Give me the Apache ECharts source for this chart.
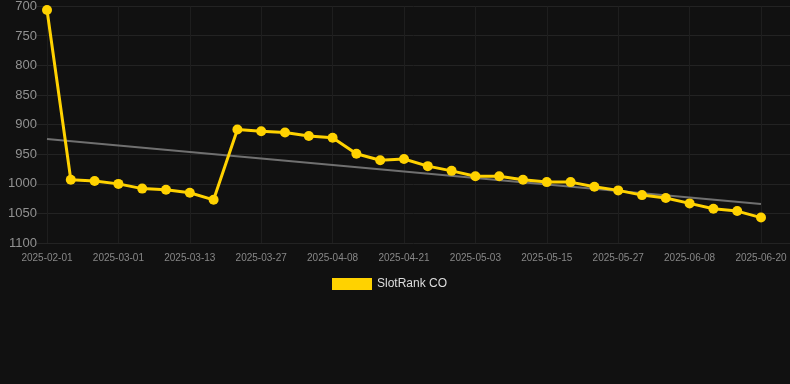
<!DOCTYPE html>
<html>
<head>
<meta charset="utf-8">
<script src="https://cdn.jsdelivr.net/npm/echarts@6/dist/echarts.min.js"></script>
<style>
html,body{margin:0;padding:0;background:#111111;}
#chart{width:790px;height:384px;}
</style>
</head>
<body>
<div id="chart"></div>
<script>
var categories = ['2025-02-01','2025-02-10','2025-02-19','2025-03-01','2025-03-05','2025-03-09','2025-03-13','2025-03-17','2025-03-22','2025-03-27','2025-03-31','2025-04-04','2025-04-08','2025-04-12','2025-04-17','2025-04-21','2025-04-25','2025-04-29','2025-05-03','2025-05-07','2025-05-11','2025-05-15','2025-05-19','2025-05-23','2025-05-27','2025-05-31','2025-06-04','2025-06-08','2025-06-12','2025-06-16','2025-06-20'];
var rankValues = [706, 993, 995, 1000, 1008, 1010, 1015, 1027, 908, 911, 913, 919, 922, 949, 960, 958, 970, 978, 987, 987, 993, 997, 997, 1005, 1011, 1019, 1024, 1033, 1042, 1046, 1057];
var trendStart = 924;
var trendEnd = 1034;
var seriesName = 'SlotRank CO';

var trendData = categories.map(function(c, i){
  if (i === 0) return trendStart;
  if (i === categories.length - 1) return trendEnd;
  return null;
});

var font = 'Liberation Sans, Arial, sans-serif';
var chart = echarts.init(document.getElementById('chart'));
chart.setOption({
  backgroundColor: '#111111',
  animation: false,
  grid: [
    {left: 47, right: 29, top: 6, bottom: 141, containLabel: false},
    {left: 37, right: 0, top: 6, bottom: 141, containLabel: false}
  ],
  legend: {
    data: [seriesName],
    top: 273,
    left: 327,
    itemWidth: 40,
    itemHeight: 12,
    icon: 'rect',
    textStyle: {color: '#dddddd', fontSize: 12, fontFamily: font}
  },
  xAxis: [
    {
      type: 'category',
      gridIndex: 0,
      data: categories,
      boundaryGap: false,
      axisLine: {show: false},
      axisTick: {show: false},
      axisLabel: {interval: 2, color: '#888888', fontSize: 10, margin: 10, fontFamily: font},
      splitLine: {show: true, interval: 2, lineStyle: {color: '#1e1e1e'}}
    },
    {
      type: 'value',
      gridIndex: 1,
      show: false
    }
  ],
  yAxis: [
    {
      type: 'value',
      gridIndex: 0,
      inverse: true,
      min: 700,
      max: 1100,
      interval: 50,
      axisLine: {show: false},
      axisTick: {show: false},
      axisLabel: {color: '#929292', fontSize: 13, margin: 10, fontFamily: font, formatter: function(v){ return String(v); }},
      splitLine: {show: false}
    },
    {
      type: 'value',
      gridIndex: 1,
      inverse: true,
      min: 700,
      max: 1100,
      interval: 50,
      axisLine: {show: false},
      axisTick: {show: false},
      axisLabel: {show: false},
      splitLine: {show: true, lineStyle: {color: '#232323'}}
    }
  ],
  series: [
    {
      name: 'trend',
      type: 'line',
      xAxisIndex: 0,
      yAxisIndex: 0,
      data: trendData,
      connectNulls: true,
      showSymbol: false,
      symbol: 'none',
      lineStyle: {color: '#707070', width: 2},
      z: 1,
      silent: true
    },
    {
      name: seriesName,
      type: 'line',
      xAxisIndex: 0,
      yAxisIndex: 0,
      data: rankValues,
      symbol: 'circle',
      symbolSize: 10,
      itemStyle: {color: '#FFD200'},
      lineStyle: {color: '#FFD200', width: 3},
      z: 2
    }
  ]
});
</script>
</body>
</html>
